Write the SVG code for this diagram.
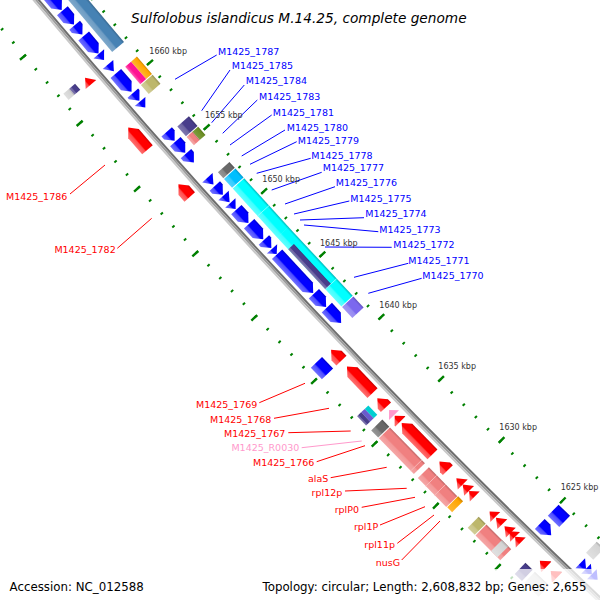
<svg xmlns="http://www.w3.org/2000/svg" width="600" height="600" viewBox="0 0 600 600">
<defs>
<style>
text{font-family:"DejaVu Sans","Liberation Sans",sans-serif}
.lbl{font-size:9.5px}
.bl{fill:#0000ff}.rd{fill:#ff0000}.pk{fill:#ff99cc}
.kbp{font-size:8px;fill:#333}
.cl{fill:none;stroke-width:1}
.cb{stroke:#0000ff}.cr{stroke:#ff0000}.cp{stroke:#ff99cc}
.tk{fill:none;stroke:#008000}
.dv{stroke-width:0.8;fill:none}
</style>
<linearGradient id="gB" x2="0" y2="1"><stop offset="0" stop-color="#0000c8"/><stop offset=".15" stop-color="#00f"/><stop offset=".6" stop-color="#00f"/><stop offset=".7" stop-color="#4d4dff"/><stop offset="1" stop-color="#7070ff"/></linearGradient>
<linearGradient id="gR" x2="0" y2="1"><stop offset="0" stop-color="#c80000"/><stop offset=".15" stop-color="#f00"/><stop offset=".6" stop-color="#f00"/><stop offset=".7" stop-color="#ff4d4d"/><stop offset="1" stop-color="#ff7070"/></linearGradient>
<linearGradient id="gSt" x2="0" y2="1"><stop offset="0" stop-color="#38688f"/><stop offset=".15" stop-color="#4682b4"/><stop offset=".6" stop-color="#4682b4"/><stop offset=".7" stop-color="#6f9dc4"/><stop offset="1" stop-color="#7ea8ca"/></linearGradient>
<linearGradient id="gOr" x2="0" y2="1"><stop offset="0" stop-color="#cc8400"/><stop offset=".2" stop-color="#ffa500"/><stop offset="1" stop-color="#ffb733"/></linearGradient>
<linearGradient id="gDp" x2="0" y2="1"><stop offset="0" stop-color="#ff1493"/><stop offset=".6" stop-color="#ff1493"/><stop offset="1" stop-color="#ff5cb3"/></linearGradient>
<linearGradient id="gKh" x2="0" y2="1"><stop offset="0" stop-color="#979256"/><stop offset=".15" stop-color="#bdb76b"/><stop offset=".6" stop-color="#bdb76b"/><stop offset=".7" stop-color="#cbc68a"/><stop offset="1" stop-color="#d1cd97"/></linearGradient>
<linearGradient id="gDs" x2="0" y2="1"><stop offset="0" stop-color="#3a316f"/><stop offset=".15" stop-color="#483d8b"/><stop offset=".6" stop-color="#483d8b"/><stop offset=".7" stop-color="#6d64a2"/><stop offset="1" stop-color="#7f77ae"/></linearGradient>
<linearGradient id="gLc" x2="0" y2="1"><stop offset="0" stop-color="#c06666"/><stop offset=".15" stop-color="#f08080"/><stop offset=".6" stop-color="#f08080"/><stop offset=".7" stop-color="#f39999"/><stop offset="1" stop-color="#f5a6a6"/></linearGradient>
<linearGradient id="gOl" x2="0" y2="1"><stop offset="0" stop-color="#56721c"/><stop offset=".2" stop-color="#6b8e23"/><stop offset="1" stop-color="#7f9d40"/></linearGradient>
<linearGradient id="gDg" x2="0" y2="1"><stop offset="0" stop-color="#545454"/><stop offset=".15" stop-color="#696969"/><stop offset=".6" stop-color="#696969"/><stop offset=".7" stop-color="#878787"/><stop offset="1" stop-color="#969696"/></linearGradient>
<linearGradient id="gSk" x2="0" y2="1"><stop offset="0" stop-color="#0099cc"/><stop offset=".15" stop-color="#00bfff"/><stop offset=".6" stop-color="#00bfff"/><stop offset=".7" stop-color="#33ccff"/><stop offset="1" stop-color="#4dd2ff"/></linearGradient>
<linearGradient id="gCy" x2="0" y2="1"><stop offset="0" stop-color="#00b8b8"/><stop offset=".15" stop-color="#0ff"/><stop offset=".6" stop-color="#0ff"/><stop offset=".7" stop-color="#40ffff"/><stop offset="1" stop-color="#60ffff"/></linearGradient>
<linearGradient id="gMs" x2="0" y2="1"><stop offset="0" stop-color="#6253be"/><stop offset=".15" stop-color="#7b68ee"/><stop offset=".6" stop-color="#7b68ee"/><stop offset=".7" stop-color="#958af1"/><stop offset="1" stop-color="#a295f3"/></linearGradient>
<linearGradient id="gLg" x2="0" y2="1"><stop offset="0" stop-color="#a9a9a9"/><stop offset=".15" stop-color="#d3d3d3"/><stop offset="1" stop-color="#e0e0e0"/></linearGradient>
</defs>
<rect width="600" height="600" fill="#fff"/>

<g id="map" transform="translate(5547.5,-4613)">
  <g id="backbone" fill="none">
    <circle r="7185" stroke="#6e6e6e" stroke-width="2"/>
    <circle r="7187" stroke="#9a9a9a" stroke-width="2"/>
    <circle r="7189" stroke="#c8c8c8" stroke-width="2"/>
  </g>
  <g id="ticks" transform="rotate(51.1699)">
    <path class="tk" stroke-width="3" stroke-dasharray="2 15.2034" stroke-dashoffset="1" d="M0,7143A7143,7143 0 0 0 1028.617,7068.55"/>
    <path class="tk" stroke-width="8" stroke-dasharray="2.4 83.593" stroke-dashoffset="1.2" d="M0,7141A7141,7141 0 0 0 1028.33,7066.57"/>
    <path class="tk" stroke-width="3" stroke-dasharray="2 15.41776" stroke-dashoffset="1" d="M0,7232A7232,7232 0 0 0 1041.433,7156.621"/>
    <path class="tk" stroke-width="8" stroke-dasharray="2.4 84.7129" stroke-dashoffset="1.2" d="M0,7234A7234,7234 0 0 0 1041.72,7158.60"/>
  </g>

  <g transform="rotate(49.79) translate(0,7187)">
    <g id="cog_st1"><rect x="-70" y="-40" width="123.5" height="15.5" fill="url(#gSt)"/></g>
    <g id="f1792"><polygon fill="url(#gB)" points="-70,-20 -19,-20 -11,-13 -19,-6 -70,-6"/></g>
    <g id="f1791"><polygon fill="url(#gB)" points="-10,-20 0,-20 8,-13 0,-6 -10,-6"/></g>
    <g id="f1790"><polygon fill="url(#gB)" points="9,-20 13,-20 21,-13 13,-6 9,-6"/></g>
    <g id="f1789"><polygon fill="url(#gB)" points="23,-20 38,-20 46,-13 38,-6 23,-6"/></g>
  </g>
  <g transform="rotate(49.10) translate(0,7187)">
    <g id="f1788"><polygon fill="url(#gB)" points="-40,-20 -32,-13 -40,-6"/></g>
    <g id="f1787b"><polygon fill="url(#gB)" points="-26,-20 -17,-13 -26,-6"/></g>
    <g id="M1425_1787"><polygon fill="url(#gB)" points="-14,-20 2,-20 10,-13 2,-6 -14,-6"/>
      <rect x="-13" y="-40" width="23" height="7.75" fill="url(#gOr)"/><rect x="-13" y="-32.25" width="23" height="7.75" fill="url(#gDp)"/></g>
    <g id="M1425_1785"><polygon fill="url(#gB)" points="12,-20 14,-20 22,-13 14,-6 12,-6"/>
      <rect x="11" y="-40" width="12" height="15.5" fill="url(#gKh)"/></g>
    <g id="f1784b"><polygon fill="url(#gB)" points="23,-20 31,-13 23,-6"/></g>
    <g id="f1788r"><polygon fill="url(#gR)" points="-31,13 -22,6 -22,20"/>
      <rect x="-33" y="24.5" width="8" height="7.75" fill="url(#gDs)"/><rect x="-33" y="32.25" width="8" height="7.75" fill="url(#gLg)"/></g>
    <g id="M1425_1786"><polygon fill="url(#gR)" points="35,13 43,6 64.3,6 64.3,20 43,20"/></g>
  </g>
  <g transform="rotate(48.41) translate(0,7187)">
    <g id="M1425_1784"><polygon fill="url(#gB)" points="-23,-20 -19,-20 -11,-13 -19,-6 -23,-6"/>
      <rect x="-20" y="-40" width="13" height="15.5" fill="url(#gDs)"/></g>
    <g id="M1425_1783"><polygon fill="url(#gB)" points="-10,-20 -3,-20 5,-13 -3,-6 -10,-6"/>
      <rect x="-6" y="-40" width="11" height="7.75" fill="url(#gOl)"/><rect x="-6" y="-32.25" width="11" height="7.75" fill="url(#gLc)"/></g>
    <g id="f1782b"><polygon fill="url(#gB)" points="6,-20 10,-20 18,-13 10,-6 6,-6"/></g>
    <g id="M1425_1782"><polygon fill="url(#gR)" points="24,13 32,6 41,6 41,20 32,20"/></g>
  </g>
  <g transform="rotate(47.72) translate(0,7187)">
    <g id="M1425_1781"><polygon fill="url(#gB)" points="-48,-20 -39,-13 -48,-6"/>
      <rect x="-45" y="-40" width="8" height="15.5" fill="url(#gDg)"/></g>
    <g id="M1425_1780"><polygon fill="url(#gB)" points="-37,-20 -33,-20 -25,-13 -33,-6 -37,-6"/>
      <rect x="-36" y="-40" width="12" height="15.5" fill="url(#gSk)"/></g>
    <g id="M1425_1779"><polygon fill="url(#gB)" points="-24,-20 -15,-13 -24,-6"/></g>
    <g id="M1425_1778"><polygon fill="url(#gB)" points="-14,-20 -6,-13 -14,-6"/></g>
    <g id="M1425_1777"><polygon fill="url(#gB)" points="-5,-20 5,-20 13,-13 5,-6 -5,-6"/></g>
    <g id="M1425_1776"><polygon fill="url(#gB)" points="14,-20 27,-20 35,-13 27,-6 14,-6"/></g>
    <g id="M1425_1775"><polygon fill="url(#gB)" points="36,-20 39,-20 47,-13 39,-6 36,-6"/></g>
    <g id="M1425_1774"><polygon fill="url(#gB)" points="48,-20 55,-13 48,-6"/></g>
    <g id="cog_cy1"><rect x="-23" y="-40" width="66" height="15.5" fill="url(#gCy)"/>
      <line class="dv" stroke="#9ff" x1="14" y1="-40" x2="14" y2="-24.5"/></g>
  </g>
  <g transform="rotate(47.03) translate(0,7187)">
    <g id="cog_cy2"><rect x="-43.5" y="-40" width="94.5" height="15.5" fill="url(#gCy)"/>
      <rect x="-27" y="-32.25" width="54.5" height="7.75" fill="url(#gDs)"/>
      <line class="dv" stroke="#9ff" x1="27.5" y1="-40" x2="27.5" y2="-24.5"/></g>
    <g id="M1425_1773"><polygon fill="url(#gB)" points="-31,-20 14,-20 22,-13 14,-6 -31,-6"/></g>
    <g id="M1425_1772"><polygon fill="url(#gB)" points="23,-20 33,-20 41,-13 33,-6 23,-6"/></g>
    <g id="M1425_1771"><polygon fill="url(#gB)" points="42,-20 55,-20 63,-13 55,-6 42,-6"/></g>
    <g id="M1425_1770"><rect x="52" y="-40" width="15" height="15.5" fill="url(#gMs)"/></g>
  </g>
  <g transform="rotate(46.34) translate(0,7187)">
    <g id="M1425_1769"><polygon fill="url(#gR)" points="-11,13 -3,6 4,6 4,20 -3,20"/>
      <rect x="-12" y="24.5" width="16" height="15.5" fill="url(#gB)"/></g>
    <g id="M1425_1768"><polygon fill="url(#gR)" points="12,13 20,6 49,6 49,20 20,20"/></g>
    <g id="M1425_1767"><polygon fill="url(#gR)" points="56,13 64,6 68.5,6 68.5,20 64,20"/>
      <rect x="55" y="24.5" width="13" height="5" fill="#00ced1"/><rect x="55" y="29.5" width="13" height="5" fill="#6a5acd"/><rect x="55" y="34.5" width="13" height="5.5" fill="url(#gDs)"/></g>
  </g>
  <g transform="rotate(45.65) translate(0,7187)">
    <g id="M1425_R0030"><polygon class="pk" points="-14,13 -7,6 -7,20"/></g>
    <g id="M1425_1766"><polygon fill="url(#gR)" points="-6,13 1,6 2,6 2,20 1,20"/>
      <rect x="-12" y="24.5" width="10" height="15.5" fill="url(#gDg)"/></g>
    <g id="alaS"><polygon fill="url(#gR)" points="4,13 12,6 48,6 48,20 12,20"/>
      <rect x="-1" y="24.5" width="50" height="15.5" fill="url(#gLc)"/>
      <line class="dv" stroke="#f8c0c0" x1="44.6" y1="24.5" x2="44.6" y2="40"/></g>
    <g id="rpl12p"><polygon fill="url(#gR)" points="58,13 66,6 70,6 70,20 66,20"/>
      <rect x="54.7" y="24.5" width="40.6" height="15.5" fill="url(#gLc)"/>
      <line class="dv" stroke="#f8c0c0" x1="66" y1="24.5" x2="66" y2="40"/><line class="dv" stroke="#f8c0c0" x1="78.7" y1="24.5" x2="78.7" y2="40"/></g>
  </g>
  <g transform="rotate(44.96) translate(0,7187)">
    <g id="rplP0"><polygon fill="url(#gR)" points="-5,13 4,6 4,20"/></g>
    <g id="rpl1P"><polygon fill="url(#gR)" points="4,13 13,6 13,20"/>
      <rect x="9" y="24.5" width="7" height="15.5" fill="url(#gOr)"/></g>
    <g id="rpl11p"><polygon fill="url(#gR)" points="13,13 21,6 21,20"/></g>
    <g id="nusG"><polygon fill="url(#gR)" points="42,13 50,6 50,20"/>
      <rect x="38" y="24.5" width="10" height="15.5" fill="url(#gKh)"/></g>
    <g id="f1762"><polygon fill="url(#gR)" points="51,13 60,6 60,20"/>
      <rect x="49" y="24.5" width="35" height="15.5" fill="url(#gLc)"/><rect x="71" y="24.5" width="9" height="15.5" fill="url(#gLg)"/></g>
    <g id="f1761"><polygon fill="url(#gR)" points="63,13 72,6 72,20"/></g>
    <g id="f1760"><polygon fill="url(#gR)" points="70,13 78,6 78,20"/></g>
    <g id="f1759"><polygon fill="url(#gR)" points="78,13 86,6 86,20"/></g>
  </g>
  <g transform="rotate(44.27) translate(0,7187)">
    <g id="f1758"><polygon fill="url(#gB)" points="0,-20 8,-20 16,-13 8,-6 0,-6"/>
      <rect x="0" y="-40" width="16" height="15.5" fill="url(#gB)"/></g>
  </g>
  <g transform="rotate(43.58) translate(0,7187)">
    <g id="f1757"><polygon fill="url(#gR)" points="-61,13 -53,6 -52,6 -52,20 -53,20"/>
      <rect x="-70" y="24.5" width="10" height="15.5" fill="url(#gDs)"/></g>
    <g id="f1756"><polygon fill="url(#gR)" points="-46,13 -38,6 -37,6 -37,20 -38,20"/>
      <rect x="-57" y="24.5" width="20" height="15.5" fill="url(#gLg)"/></g>
    <g id="f1755"><polygon fill="url(#gB)" points="-30,-20 -22,-13 -30,-6"/><polygon fill="url(#gB)" points="-22,-20 -14,-13 -22,-6"/><polygon fill="url(#gB)" points="-14,-20 -6,-13 -14,-6"/>
      <rect x="-33" y="-40" width="10" height="15.5" fill="url(#gLg)"/></g>
  </g>
</g>

<g id="connectors" class="cl">
  <g class="cb">
    <line x1="216.7" y1="55" x2="175" y2="79.3"/>
    <line x1="230" y1="70" x2="201.7" y2="110.7"/>
    <line x1="244.3" y1="85" x2="211.7" y2="122.7"/>
    <line x1="257.3" y1="100" x2="222.7" y2="133.3"/>
    <line x1="271.7" y1="115" x2="230" y2="145"/>
    <line x1="285" y1="130" x2="241.7" y2="156"/>
    <line x1="296.7" y1="141.7" x2="250" y2="164.3"/>
    <line x1="310.7" y1="158.3" x2="256.7" y2="173.3"/>
    <line x1="321.7" y1="172.3" x2="271.7" y2="190"/>
    <line x1="335" y1="186.7" x2="285" y2="204"/>
    <line x1="349.3" y1="201" x2="294" y2="214"/>
    <line x1="364" y1="217.7" x2="300" y2="220"/>
    <line x1="378.3" y1="231.7" x2="304" y2="225"/>
    <line x1="391.7" y1="247.3" x2="325" y2="247"/>
    <line x1="408.3" y1="263.3" x2="354" y2="277.3"/>
    <line x1="421.7" y1="278.3" x2="368.3" y2="293.3"/>
  </g>
  <g class="cr">
    <line x1="70" y1="194" x2="105" y2="165"/>
    <line x1="117.3" y1="248.3" x2="151.7" y2="218.3"/>
    <line x1="259.3" y1="402.7" x2="305" y2="383.3"/>
    <line x1="274" y1="418.3" x2="329" y2="408.3"/>
    <line x1="288.3" y1="432.7" x2="350.7" y2="431"/>
    <line x1="316.7" y1="461.7" x2="365" y2="445.7"/>
    <line x1="330.7" y1="477.7" x2="386.7" y2="467.3"/>
    <line x1="345" y1="491" x2="406.7" y2="488.3"/>
    <line x1="361.7" y1="507.3" x2="415" y2="497.3"/>
    <line x1="380" y1="525" x2="425" y2="506.7"/>
    <line x1="397.3" y1="543.3" x2="434" y2="515"/>
    <line x1="401.7" y1="560" x2="440" y2="521"/>
  </g>
  <line class="cp" x1="301.7" y1="447.7" x2="361.7" y2="441"/>
</g>

<g id="ticklabels" class="kbp">
  <text x="149.3" y="54.3">1660 kbp</text>
  <text x="205" y="118.3">1655 kbp</text>
  <text x="262.3" y="182.3">1650 kbp</text>
  <text x="320" y="246">1645 kbp</text>
  <text x="379.3" y="308.3">1640 kbp</text>
  <text x="438.3" y="369.3">1635 kbp</text>
  <text x="499.3" y="430">1630 kbp</text>
  <text x="560.7" y="490">1625 kbp</text>
</g>

<g id="labels" class="lbl">
  <g class="bl">
    <text x="218" y="54.5">M1425_1787</text>
    <text x="231.7" y="69">M1425_1785</text>
    <text x="245.7" y="84">M1425_1784</text>
    <text x="259" y="100">M1425_1783</text>
    <text x="272.7" y="115.5">M1425_1781</text>
    <text x="286.7" y="130.5">M1425_1780</text>
    <text x="297.7" y="143.5">M1425_1779</text>
    <text x="311.3" y="159">M1425_1778</text>
    <text x="322.7" y="170.5">M1425_1777</text>
    <text x="335.7" y="186">M1425_1776</text>
    <text x="350.3" y="201.5">M1425_1775</text>
    <text x="365.3" y="217">M1425_1774</text>
    <text x="379.3" y="232.5">M1425_1773</text>
    <text x="393.3" y="247.5">M1425_1772</text>
    <text x="408.3" y="263.5">M1425_1771</text>
    <text x="422.3" y="279">M1425_1770</text>
  </g>
  <g class="rd" text-anchor="end">
    <text x="67.3" y="199.5">M1425_1786</text>
    <text x="115.7" y="252.5">M1425_1782</text>
    <text x="257.3" y="407.5">M1425_1769</text>
    <text x="271.3" y="423">M1425_1768</text>
    <text x="285.3" y="437">M1425_1767</text>
    <text x="314.3" y="466">M1425_1766</text>
    <text x="328.3" y="481.5">alaS</text>
    <text x="342.3" y="496">rpl12p</text>
    <text x="359" y="512.5">rplP0</text>
    <text x="378.3" y="529.5">rpl1P</text>
    <text x="395" y="547.5">rpl11p</text>
    <text x="400" y="566">nusG</text>
  </g>
  <text class="pk" text-anchor="end" x="299.3" y="451">M1425_R0030</text>
</g>

<text id="title" x="131" y="22.5" font-size="13.7" font-style="italic" fill="#000">Sulfolobus islandicus M.14.25, complete genome</text>
<rect x="257" y="569" width="343" height="31" fill="#fff" fill-opacity="0.75"/>
<text id="accession" x="9.6" y="590.5" font-size="11.8" fill="#000">Accession: NC_012588</text>
<text id="topology" x="262.5" y="590.5" font-size="11.8" fill="#000">Topology: circular; Length: 2,608,832 bp; Genes: 2,655</text>
</svg>
